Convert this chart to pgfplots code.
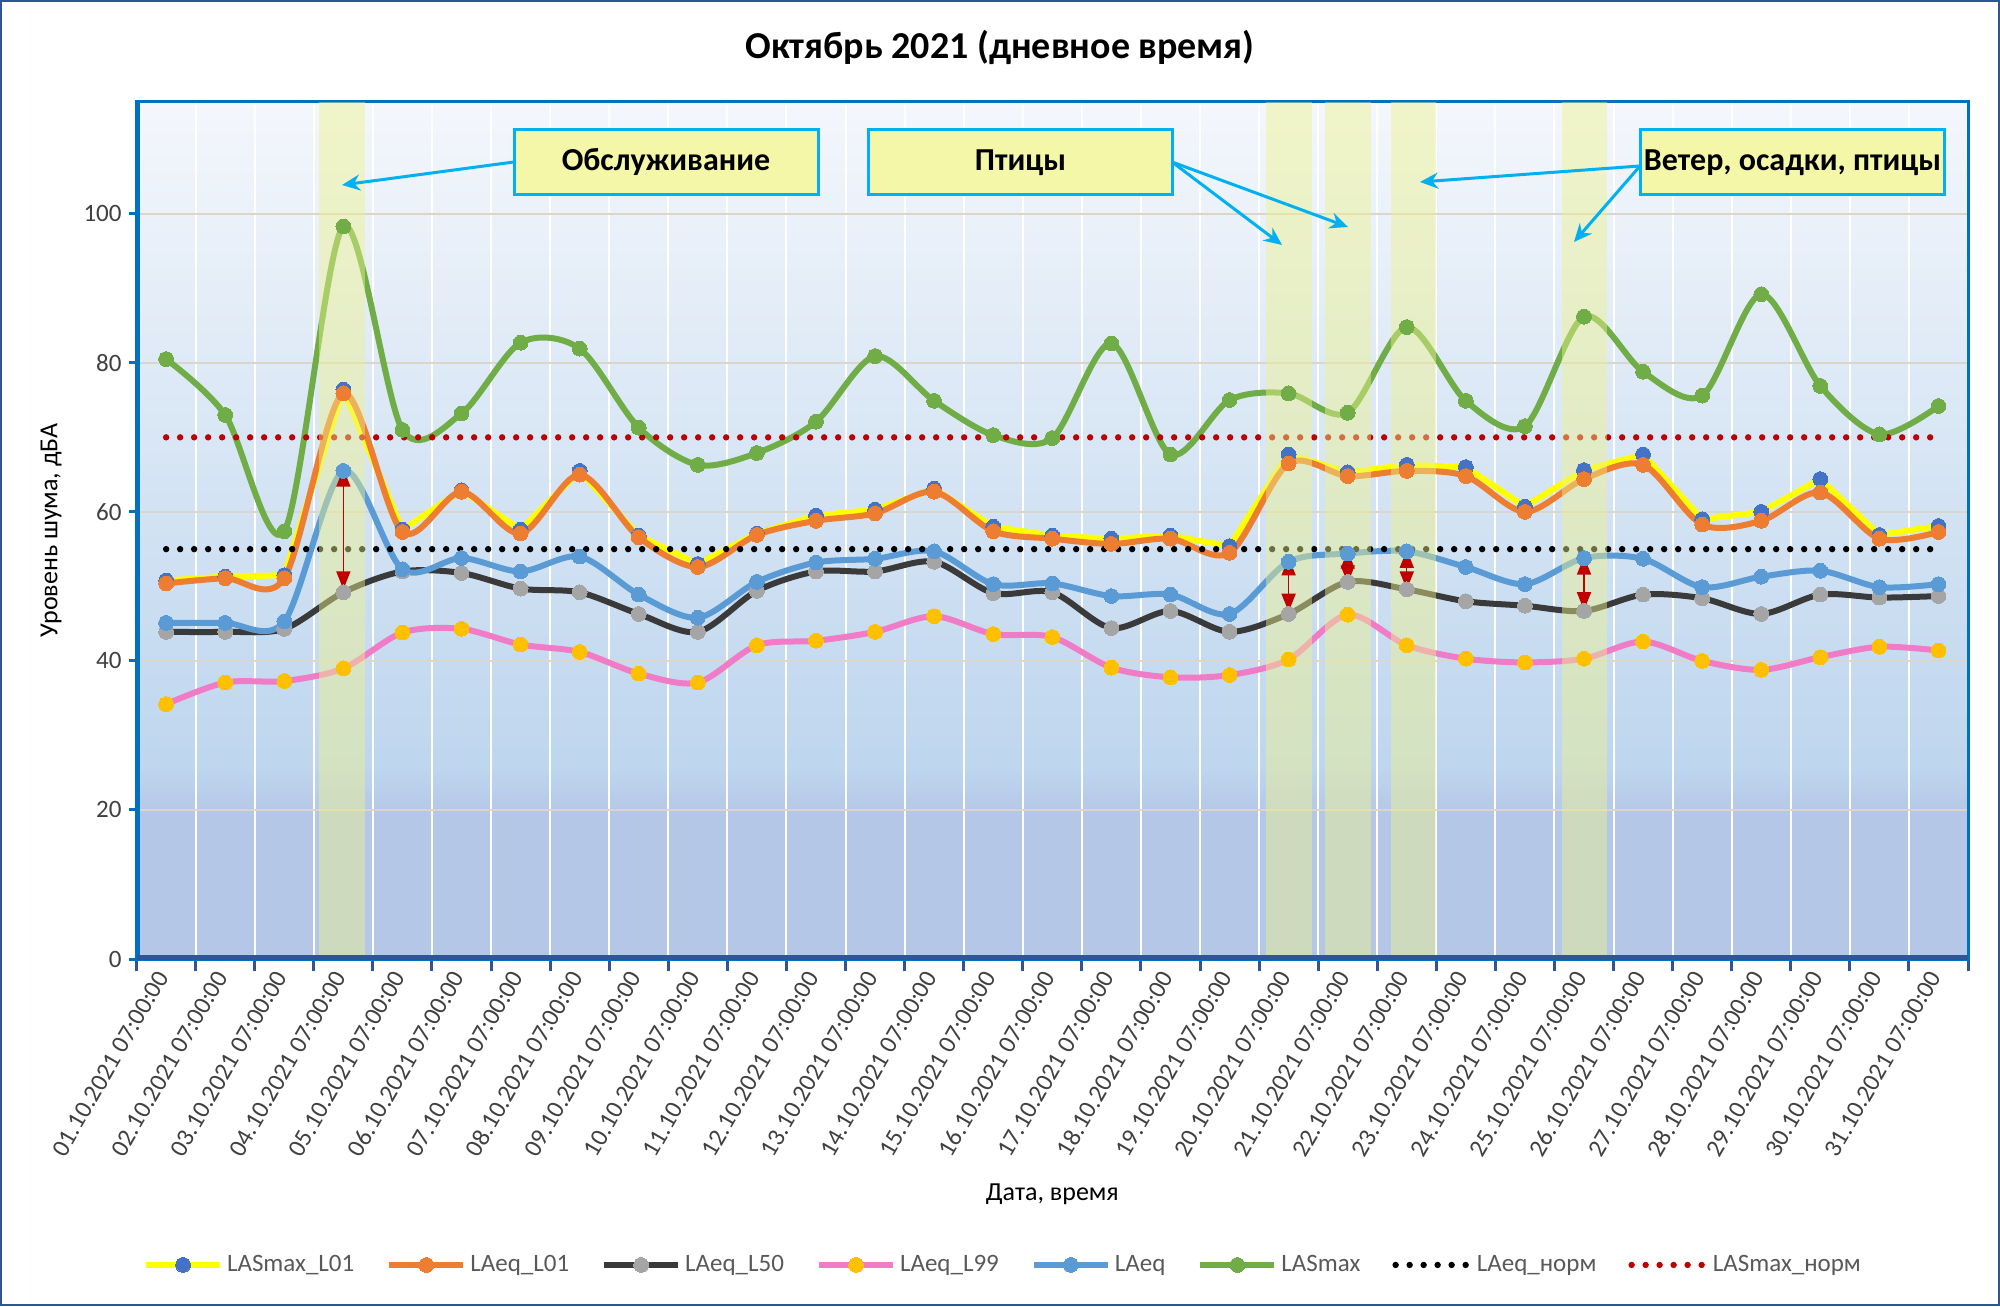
\documentclass[border=0pt]{standalone}
\usepackage{fontspec}
\setmainfont{Carlito}
\usepackage{pgfplots}
\usepackage{pgfplotstable}
\pgfplotsset{compat=1.18}
\usetikzlibrary{arrows.meta}

\definecolor{cAx}{HTML}{0070C0}
\definecolor{cAxB}{HTML}{2F5597}
\definecolor{cYel}{HTML}{FFFF00}
\definecolor{cBluM}{HTML}{4472C4}
\definecolor{cOra}{HTML}{ED7D31}
\definecolor{cDrk}{HTML}{3A3A3A}
\definecolor{cGry}{HTML}{A5A5A5}
\definecolor{cPnk}{HTML}{F07CC8}
\definecolor{cGld}{HTML}{FFC000}
\definecolor{cBlu}{HTML}{5B9BD5}
\definecolor{cGrn}{HTML}{70AD47}
\definecolor{cRed}{HTML}{C00000}
\definecolor{cCyan}{HTML}{00B0F0}
\definecolor{cBox}{HTML}{F4F6A8}
\definecolor{cBand}{RGB}{238,242,140}
\definecolor{cGrid}{HTML}{DAD6CC}
\definecolor{cTxt}{HTML}{404040}
\definecolor{cLeg}{HTML}{595959}
\definecolor{bgLow}{RGB}{180,199,231}
\definecolor{bgLow2}{RGB}{182,201,232}
\definecolor{bgMid}{RGB}{190,214,238}
\definecolor{bgTop}{RGB}{244,247,252}
\pgfdeclareverticalshading{bgshade}{100bp}{color(0bp)=(bgLow); color(33.6bp)=(bgLow); color(33.75bp)=(bgLow2); color(36.3bp)=(bgMid); color(75bp)=(bgTop); color(100bp)=(bgTop)}

\pgfplotstableread{
x  s01   e01   e50   e99   eq    smax
1  50.8  50.4  43.9  34.2  45.1  80.5
2  51.3  51.1  43.9  37.1  45.1  73.0
3  51.5  51.1  44.3  37.3  45.3  57.4
4  76.4  75.9  49.2  39.0  65.5  98.3
5  57.6  57.3  52.0  43.8  52.3  71.0
6  62.9  62.7  51.8  44.3  53.8  73.2
7  57.6  57.1  49.7  42.2  52.0  82.7
8  65.5  65.0  49.2  41.2  54.0  81.9
9  56.8  56.6  46.3  38.3  48.9  71.3
10 53.0  52.6  43.9  37.1  45.8  66.3
11 57.1  56.9  49.4  42.1  50.6  67.9
12 59.5  58.8  52.0  42.7  53.2  72.1
13 60.3  59.8  52.0  43.9  53.7  80.9
14 63.1  62.7  53.3  46.0  54.7  74.9
15 58.0  57.4  49.1  43.6  50.3  70.3
16 56.8  56.4  49.2  43.2  50.4  69.9
17 56.4  55.7  44.4  39.1  48.7  82.6
18 56.8  56.4  46.7  37.8  48.9  67.7
19 55.4  54.5  43.9  38.1  46.3  75.0
20 67.7  66.5  46.3  40.2  53.3  75.9
21 65.3  64.8  50.6  46.2  54.4  73.3
22 66.3  65.5  49.6  42.1  54.7  84.8
23 66.0  64.8  48.0  40.3  52.6  74.9
24 60.7  60.0  47.4  39.8  50.3  71.5
25 65.6  64.4  46.7  40.3  53.8  86.2
26 67.7  66.3  48.9  42.6  53.7  78.8
27 59.0  58.3  48.4  40.0  49.9  75.6
28 60.0  58.8  46.3  38.8  51.3  89.2
29 64.4  62.6  48.9  40.5  52.1  76.9
30 56.9  56.4  48.5  41.9  49.9  70.4
31 58.1  57.3  48.7  41.4  50.3  74.2
}\datatable

\begin{document}
\begin{tikzpicture}
\path[use as bounding box] (0,0) rectangle (1000pt,653pt);
\fill[white] (0,0) rectangle (1000pt,653pt);
\begin{axis}[
  at={(68.3pt,173.5pt)}, anchor=south west,
  scale only axis, width=915.7pt, height=428.5pt,
  xmin=0.5, xmax=31.5, ymin=0, ymax=115,
  axis background/.style={shade, shading=bgshade},
  xtick={1,...,31},
  xticklabels={01.10.2021 07:00:00,02.10.2021 07:00:00,03.10.2021 07:00:00,04.10.2021 07:00:00,05.10.2021 07:00:00,06.10.2021 07:00:00,07.10.2021 07:00:00,08.10.2021 07:00:00,09.10.2021 07:00:00,10.10.2021 07:00:00,11.10.2021 07:00:00,12.10.2021 07:00:00,13.10.2021 07:00:00,14.10.2021 07:00:00,15.10.2021 07:00:00,16.10.2021 07:00:00,17.10.2021 07:00:00,18.10.2021 07:00:00,19.10.2021 07:00:00,20.10.2021 07:00:00,21.10.2021 07:00:00,22.10.2021 07:00:00,23.10.2021 07:00:00,24.10.2021 07:00:00,25.10.2021 07:00:00,26.10.2021 07:00:00,27.10.2021 07:00:00,28.10.2021 07:00:00,29.10.2021 07:00:00,30.10.2021 07:00:00,31.10.2021 07:00:00},
  minor xtick={0.5,1.5,...,31.5},
  xminorgrids=true, ymajorgrids=true,
  minor x grid style={white, line width=1pt},
  major y grid style={cGrid, line width=0.8pt},
  ytick={0,20,...,100},
  tick pos=left,
  tick align=outside,
  every major x tick/.style={draw=none},
  every minor x tick/.style={draw=cAxB, line width=1.5pt},
  every major y tick/.style={draw=cAx, line width=1.5pt},
  minor tick length=6pt,
  major tick length=4pt,
  axis line style={draw=cAx, line width=1.5pt},
  xticklabel style={rotate=60, anchor=east, font=\fontsize{12.5}{15}\selectfont, text=cTxt},
  yticklabel style={font=\fontsize{12.5}{15}\selectfont, text=cTxt},
  /pgf/number format/assume math mode=true,
  ylabel={Уровень шума, дБА},
  ylabel style={at={(axis description cs:-0.0467,0.5)}, anchor=center, font=\fontsize{13}{15}\selectfont, text=black},
  xlabel={Дата, время},
  xlabel style={at={(axis description cs:0.5,-0.274)}, anchor=center, font=\fontsize{13}{15}\selectfont, text=black},
  legend columns=8,
  legend style={at={(axis description cs:0.4736,-0.357)}, anchor=center, draw=none, fill=none,
    font=\fontsize{12.5}{15}\selectfont, text=cLeg,
    /tikz/every even column/.append style={column sep=14pt}},
  legend cell align=left,
  legend image code/.code={\draw[mark repeat=2,mark phase=2,#1] plot coordinates {(0pt,0pt) (18.5pt,0pt) (37pt,0pt)};},
]
\addplot[cYel, line width=3pt, mark=*, mark size=3.7pt, mark options={draw=cBluM, fill=cBluM, line width=0pt}] table[x=x,y=s01] {\datatable};
\addlegendentry{LASmax\_L01}
\addplot[cOra, line width=3pt, smooth, tension=0.5, mark=*, mark size=3.7pt, mark options={draw=cOra, fill=cOra, line width=0pt}] table[x=x,y=e01] {\datatable};
\addlegendentry{LAeq\_L01}
\addplot[cDrk, line width=3pt, smooth, tension=0.5, mark=*, mark size=3.7pt, mark options={draw=cGry, fill=cGry, line width=0pt}] table[x=x,y=e50] {\datatable};
\addlegendentry{LAeq\_L50}
\addplot[cPnk, line width=3pt, smooth, tension=0.5, mark=*, mark size=3.7pt, mark options={draw=cGld, fill=cGld, line width=0pt}] table[x=x,y=e99] {\datatable};
\addlegendentry{LAeq\_L99}
\addplot[cBlu, line width=3pt, smooth, tension=0.5, mark=*, mark size=3.7pt, mark options={draw=cBlu, fill=cBlu, line width=0pt}] table[x=x,y=eq] {\datatable};
\addlegendentry{LAeq}
\addplot[cGrn, line width=3pt, smooth, tension=0.5, mark=*, mark size=3.7pt, mark options={draw=cGrn, fill=cGrn, line width=0pt}] table[x=x,y=smax] {\datatable};
\addlegendentry{LASmax}
\addplot[black, line width=3.2pt, line cap=round, dash pattern=on 0pt off 7pt] coordinates {(1,55) (31,55)};
\addlegendentry{LAeq\_норм}
\addplot[cRed, line width=3.2pt, line cap=round, dash pattern=on 0pt off 7pt] coordinates {(1,70) (31,70)};
\addlegendentry{LASmax\_норм}
% highlighted periods
\addplot[draw=none, fill=cBand, fill opacity=0.45, forget plot] coordinates {(3.59,0) (4.37,0) (4.37,115) (3.59,115)} -- cycle;
\addplot[draw=none, fill=cBand, fill opacity=0.45, forget plot] coordinates {(19.61,0) (20.39,0) (20.39,115) (19.61,115)} -- cycle;
\addplot[draw=none, fill=cBand, fill opacity=0.45, forget plot] coordinates {(20.62,0) (21.39,0) (21.39,115) (20.62,115)} -- cycle;
\addplot[draw=none, fill=cBand, fill opacity=0.45, forget plot] coordinates {(21.73,0) (22.49,0) (22.49,115) (21.73,115)} -- cycle;
\addplot[draw=none, fill=cBand, fill opacity=0.45, forget plot] coordinates {(24.62,0) (25.39,0) (25.39,115) (24.62,115)} -- cycle;
% red double arrows
\draw[cRed, line width=0.7pt, {Triangle[width=7pt,length=9pt]}-{Triangle[width=7pt,length=9pt]}] (axis cs:4,49.6) -- (axis cs:4,65.8);
\draw[cRed, line width=0.7pt, {Triangle[width=7pt,length=9pt]}-{Triangle[width=7pt,length=9pt]}] (axis cs:20,46.6) -- (axis cs:20,53.9);
\draw[cRed, line width=0.7pt, {Triangle[width=7pt,length=9pt]}-{Triangle[width=7pt,length=9pt]}] (axis cs:21,50.4) -- (axis cs:21,54.8);
\draw[cRed, line width=0.7pt, {Triangle[width=7pt,length=9pt]}-{Triangle[width=7pt,length=9pt]}] (axis cs:22,49.6) -- (axis cs:22,54.9);
\draw[cRed, line width=0.7pt, {Triangle[width=7pt,length=9pt]}-{Triangle[width=7pt,length=9pt]}] (axis cs:25,46.8) -- (axis cs:25,54.0);
% heavy left and bottom axis lines
\draw[cAx, line width=3pt] (rel axis cs:0,0) -- (rel axis cs:0,1);
\draw[cAxB, line width=4pt] (rel axis cs:0,0) -- (rel axis cs:1,0);
\end{axis}
% title
\node[font=\fontsize{19}{22}\selectfont\bfseries] at (500pt,629.4pt) {Октябрь 2021 (дневное время)};
% callout arrows
\begin{scope}[cCyan, line width=1.5pt, -{Stealth[length=9pt,width=8pt]}]
\draw (257pt,572pt) -- (171pt,560.5pt);
\draw (586pt,572pt) -- (641pt,530.5pt);
\draw (586pt,572pt) -- (674pt,539.5pt);
\draw (820pt,570pt) -- (710pt,562pt);
\draw (820pt,570pt) -- (787pt,532pt);
\end{scope}
\begin{scope}[every node/.style={draw=cCyan, line width=1.5pt, fill=cBox, minimum width=152pt, minimum height=32.5pt, inner sep=0pt, font=\fontsize{16}{19}\selectfont\bfseries}]
\node at (333pt,571.75pt) {Обслуживание};
\node at (510.25pt,571.75pt) {Птицы};
\node at (896.25pt,571.75pt) {Ветер, осадки, птицы};
\end{scope}
\draw[cAxB, line width=1.2pt] (0.6pt,0.6pt) rectangle (999.4pt,652.4pt);
\end{tikzpicture}
\end{document}
